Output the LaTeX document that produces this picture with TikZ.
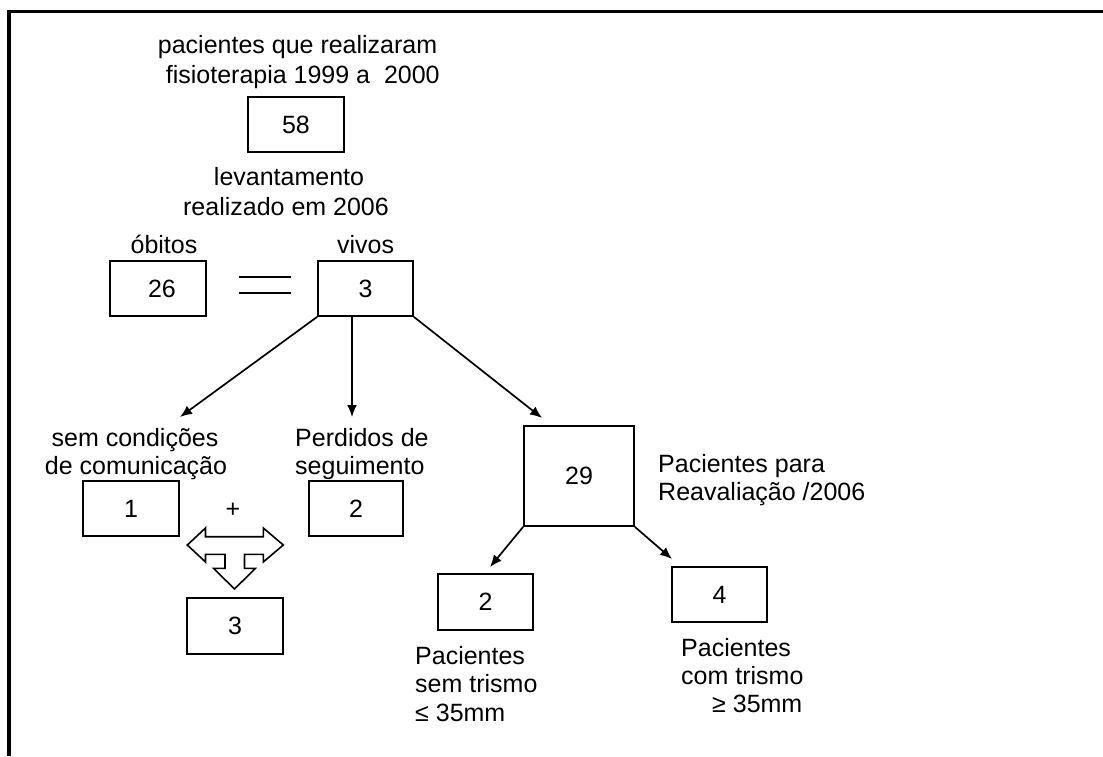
\documentclass[tikz,border=0pt]{standalone}
\usepackage{fontspec}
\setmainfont{Liberation Sans}
\usetikzlibrary{arrows.meta}
\tikzset{
  bx/.style={draw, line width=1.7pt, inner sep=0pt, font=\fontsize{25}{29}\selectfont},
  txt/.style={inner sep=0pt, font=\fontsize{25}{29}\selectfont},
  lc/.style={txt, anchor=base},
  ll/.style={txt, anchor=base west},
  conn/.style={line width=1.7pt, -{Latex[length=12pt,width=10pt]}},
  thin/.style={line width=1.6pt},
}
\begin{document}
\begin{tikzpicture}[x=1pt,y=-1pt]
\useasboundingbox (0,0) rectangle (1103,756);
% frame
\draw[line width=3.8pt] (9,756) -- (9,11.5) -- (1103,11.5);

% top
\node[lc] (top1) at (297.6,53) {pacientes que realizaram};
\node[lc] (top2) at (302.8,83) {fisioterapia 1999 a\ \ 2000};
\node[bx, minimum width=96pt, minimum height=55pt] (b58) at (296,124.5) {58};
\node[lc] (lev1) at (289,185) {levantamento};
\node[lc] (lev2) at (286,215) {realizado em 2006};

\node[lc] (obi) at (164,253) {óbitos};
\node[lc] (viv) at (365.6,253) {vivos};
\node[bx, minimum width=96pt, minimum height=55pt] (b26) at (158,288.5) {\hspace*{8pt}26};
\node[bx, minimum width=95pt, minimum height=55pt] (b3v) at (365.5,288.5) {3\hspace{17pt}};
\coordinate (e1) at (239,277); \coordinate (e2) at (291,277);
\coordinate (e3) at (239,293); \coordinate (e4) at (291,293);
\draw[thin] (e1) -- (e2) (e3) -- (e4);

% level 2
\node[lc] (semc1) at (135,446) {sem condições};
\node[lc] (semc2) at (136,474) {de comunicação};
\node[ll] (perd1) at (295,446) {Perdidos de};
\node[ll] (perd2) at (295,474) {seguimento};
\node[bx, minimum width=96pt, minimum height=55pt] (b1) at (131,508.5) {1};
\node[bx, minimum width=94pt, minimum height=55pt] (b2) at (356,508.5) {2};
\node[txt] (plus) at (233,510) {+};
\node[bx, minimum width=96pt, minimum height=56pt] (b3) at (235,626) {3};
\node[bx, minimum width=110pt, minimum height=100pt] (b29) at (579,476) {29};
\node[ll] (reav1) at (658,472) {Pacientes para};
\node[ll] (reav2) at (658,500) {Reavaliação /2006};

% level 3
\node[bx, minimum width=95pt, minimum height=56pt] (b2b) at (485.5,602) {2\hspace{14pt}};
\node[bx, minimum width=95pt, minimum height=55pt] (b4) at (719.5,594.5) {4};
\node[ll] (sem1) at (415,664) {Pacientes};
\node[ll] (sem2) at (415,692) {sem trismo};
\node[ll] (sem3) at (415,721) {≤ 35mm};
\node[ll] (com1) at (681,656) {Pacientes};
\node[ll] (com2) at (681,684) {com trismo};
\node[ll] (com3) at (712,712) {≥ 35mm};

% connectors
\coordinate (t1) at (180,417);
\coordinate (t2) at (352,417);
\coordinate (t3) at (542,418);
\coordinate (t4) at (490,567);
\coordinate (t5) at (672,559);
\draw[conn] (b3v.south west) -- (t1);
\draw[conn] (t2 |- b3v.south) -- (t2);
\draw[conn] (b3v.south east) -- (t3);
\draw[conn] (b29.south west) -- (t4);
\draw[conn] (b29.south east) -- (t5);

% block arrow
\draw[thin, line join=miter] (187.3,545) -- (205.5,528) -- (205.5,536.7) -- (263.3,536.7) -- (263.3,528) -- (283.3,545) -- (263.3,562) -- (263.3,554.3) -- (244.5,554.3) -- (244.5,568.3) -- (255.5,568.3) -- (234.5,589) -- (213.5,568.3) -- (225,568.3) -- (225,554.3) -- (205.5,554.3) -- (205.5,562) -- cycle;
\end{tikzpicture}
\end{document}
